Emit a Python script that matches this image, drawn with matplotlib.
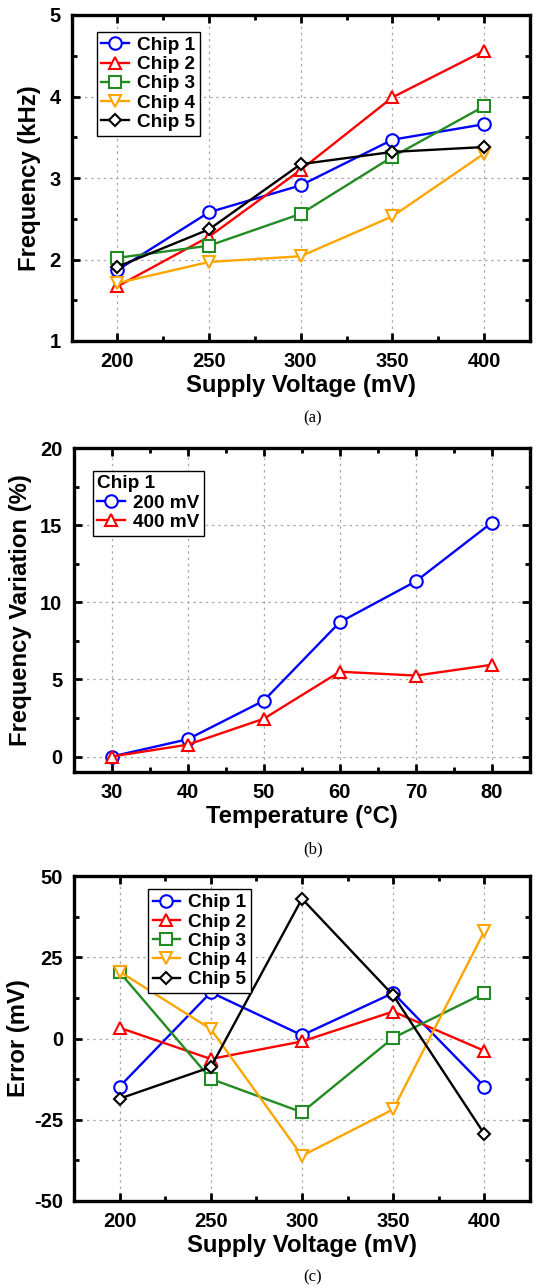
import matplotlib
matplotlib.use("Agg")
import matplotlib.pyplot as plt
from matplotlib.ticker import MultipleLocator

plt.rcParams['font.family'] = ['Liberation Sans', 'DejaVu Sans']
plt.rcParams['font.weight'] = 'bold'
plt.rcParams['axes.unicode_minus'] = False

# ---------------- data ----------------
voltage = [200, 250, 300, 350, 400]
freq_chip1 = [1.87, 2.58, 2.91, 3.47, 3.66]
freq_chip2 = [1.67, 2.28, 3.10, 3.99, 4.56]
freq_chip3 = [2.02, 2.17, 2.56, 3.26, 3.88]
freq_chip4 = [1.71, 1.97, 2.04, 2.53, 3.30]
freq_chip5 = [1.91, 2.37, 3.17, 3.32, 3.38]

temperature = [30, 40, 50, 60, 70, 80]
var_200mv = [0.0, 1.12, 3.62, 8.71, 11.36, 15.17]
var_400mv = [0.0, 0.77, 2.45, 5.50, 5.25, 5.95]

err_chip1 = [-14.8, 14.2, 1.0, 14.0, -14.8]
err_chip2 = [3.3, -6.3, -0.9, 8.3, -3.8]
err_chip3 = [20.4, -12.4, -22.7, 0.2, 14.0]
err_chip4 = [20.6, 2.9, -36.1, -21.8, 33.0]
err_chip5 = [-18.5, -8.8, 43.0, 13.3, -29.4]

chip_labels = ['Chip 1', 'Chip 2', 'Chip 3', 'Chip 4', 'Chip 5']
temp_labels = ['200 mV', '400 mV']

colors = ['#0000FF', '#FF0000', '#228B22', '#FFA500', '#000000']
markers = ['o', '^', 's', 'v', 'D']
msizes = [9, 9, 9, 9, 6.5]

W, H = 535, 1288
fig = plt.figure(figsize=(W / 100, H / 100), dpi=100)

TICK_FS = 14.5
LABEL_FS = 17.2
LEG_FS = 13.7


def style_axes(ax):
    for s in ax.spines.values():
        s.set_linewidth(2.4)
    ax.tick_params(which='both', direction='in', top=True, right=True,
                   labelsize=TICK_FS, width=2.0)
    ax.tick_params(which='major', length=6, pad=8)
    ax.tick_params(which='minor', length=3.5)
    ax.grid(True, which='major', linestyle=(0, (2, 3)), color='#aaaaaa',
            linewidth=0.9)
    ax.set_axisbelow(True)
    for lab in ax.get_xticklabels() + ax.get_yticklabels():
        lab.set_fontweight('bold')


def add_axes(px_left, px_top, px_right, px_bottom):
    return fig.add_axes([px_left / W, 1 - px_bottom / H,
                         (px_right - px_left) / W, (px_bottom - px_top) / H])


def plot_series(ax, x, ys, labels):
    for y, lab, c, m, ms in zip(ys, labels, colors, markers, msizes):
        ax.plot(x, y, color=c, marker=m, markersize=ms, markerfacecolor='white',
                markeredgecolor=c, markeredgewidth=1.5, linewidth=1.7, label=lab)


def legend(ax, anchor, **kw):
    leg = ax.legend(loc='upper left', bbox_to_anchor=anchor, borderaxespad=0,
                    fancybox=False, framealpha=1, edgecolor='black',
                    prop={'weight': 'bold', 'size': LEG_FS}, handlelength=1.45,
                    handletextpad=0.4, labelspacing=0.1, borderpad=0.25, **kw)
    leg.get_frame().set_linewidth(1.0)
    return leg


# ---------------- (a) ----------------
ax1 = add_axes(71.5, 15, 530, 341)
plot_series(ax1, voltage, [freq_chip1, freq_chip2, freq_chip3, freq_chip4, freq_chip5],
            chip_labels)
ax1.set_xlim(175, 425)
ax1.set_ylim(1, 5)
ax1.xaxis.set_major_locator(MultipleLocator(50))
ax1.xaxis.set_minor_locator(MultipleLocator(25))
ax1.yaxis.set_major_locator(MultipleLocator(1))
ax1.yaxis.set_minor_locator(MultipleLocator(0.5))
ax1.set_xlabel('Supply Voltage (mV)', fontsize=LABEL_FS, fontweight='bold', labelpad=2)
ax1.set_ylabel('Frequency (kHz)', fontsize=LABEL_FS, fontweight='bold', labelpad=6)
style_axes(ax1)
legend(ax1, (0.055, 0.948))

# ---------------- (b) ----------------
ax2 = add_axes(73.5, 448, 530, 772)
for y, lab, c, m in zip([var_200mv, var_400mv], temp_labels, colors[:2], markers[:2]):
    ax2.plot(temperature, y, color=c, marker=m, markersize=9, markerfacecolor='white',
             markeredgecolor=c, markeredgewidth=1.5, linewidth=1.7, label=lab)
ax2.set_xlim(25, 85)
ax2.set_ylim(-1, 20)
ax2.xaxis.set_major_locator(MultipleLocator(10))
ax2.xaxis.set_minor_locator(MultipleLocator(5))
ax2.yaxis.set_major_locator(MultipleLocator(5))
ax2.yaxis.set_minor_locator(MultipleLocator(2.5))
ax2.set_xlabel('Temperature (°C)', fontsize=LABEL_FS, fontweight='bold', labelpad=2)
ax2.set_ylabel('Frequency Variation (%)', fontsize=LABEL_FS, fontweight='bold', labelpad=6)
style_axes(ax2)
leg2 = legend(ax2, (0.042, 0.930), title='Chip 1', alignment='left')
leg2.get_title().set_fontweight('bold')
leg2.get_title().set_fontsize(LEG_FS)

# ---------------- (c) ----------------
ax3 = add_axes(74, 876, 530, 1201)
plot_series(ax3, voltage, [err_chip1, err_chip2, err_chip3, err_chip4, err_chip5],
            chip_labels)
ax3.set_xlim(175, 425)
ax3.set_ylim(-50, 50)
ax3.xaxis.set_major_locator(MultipleLocator(50))
ax3.xaxis.set_minor_locator(MultipleLocator(25))
ax3.yaxis.set_major_locator(MultipleLocator(25))
ax3.yaxis.set_minor_locator(MultipleLocator(12.5))
ax3.set_xlabel('Supply Voltage (mV)', fontsize=LABEL_FS, fontweight='bold', labelpad=2)
ax3.set_ylabel('Error (mV)', fontsize=LABEL_FS, fontweight='bold', labelpad=3)
style_axes(ax3)
legend(ax3, (0.162, 0.959))

# captions
for txt, ypx in [('(a)', 418), ('(b)', 849), ('(c)', 1277)]:
    fig.text(313 / W, 1 - ypx / H, txt, ha='center', va='center',
             fontsize=12, fontweight='normal', family='Liberation Serif')

fig.savefig('out.png', dpi=100)
